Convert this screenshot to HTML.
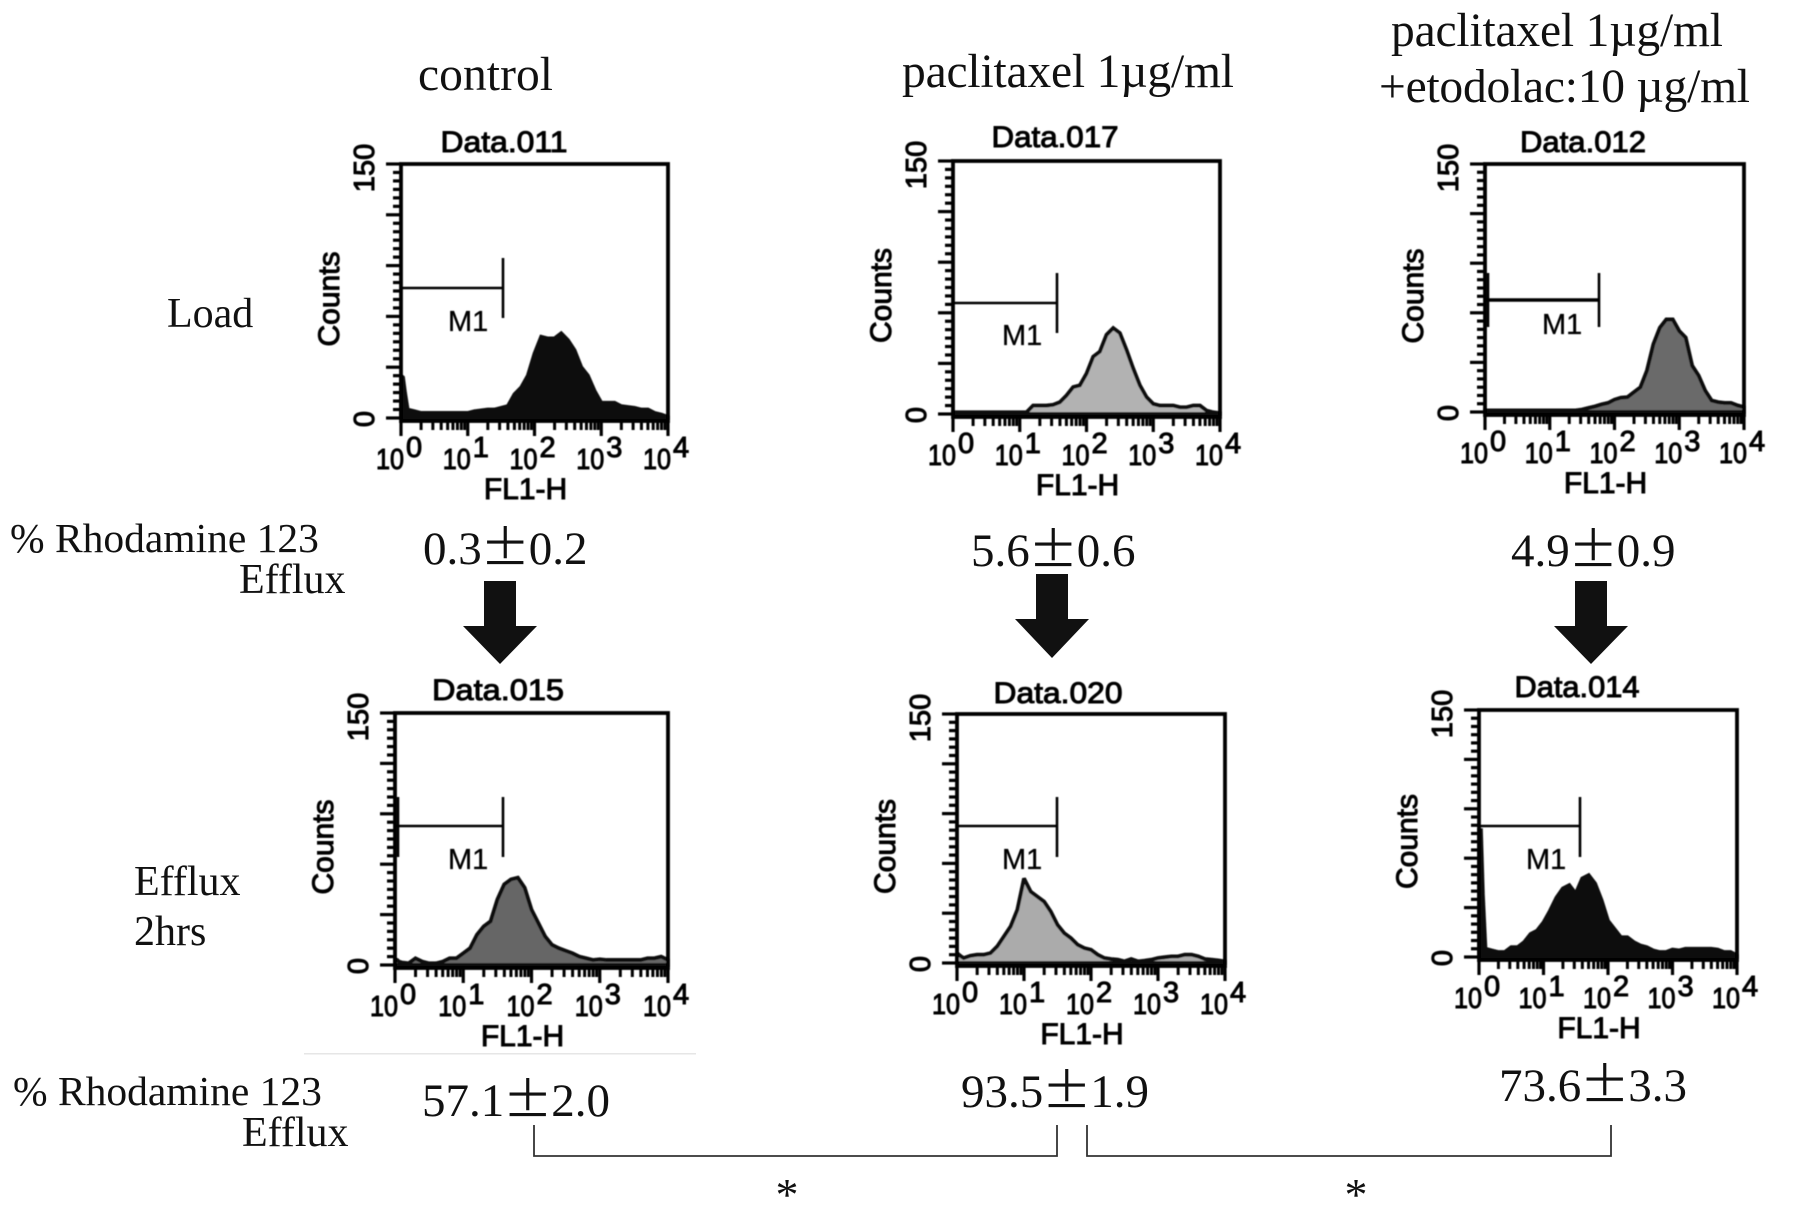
<!DOCTYPE html>
<html lang="en">
<head>
<meta charset="utf-8">
<title>Rhodamine 123 efflux flow cytometry histograms</title>
<style>
html,body{margin:0;padding:0;background:#fff;}
svg{display:block;}
.serif{font-family:"Liberation Serif",serif;fill:#111;}
.wide{font-family:"Noto Serif CJK SC","Liberation Serif",serif;stroke:#111;stroke-width:1.1;}
</style>
</head>
<body>
<svg id="figure" xmlns="http://www.w3.org/2000/svg" width="1795" height="1211" viewBox="0 0 1795 1211">
<defs><filter id="soft" x="-5%" y="-5%" width="110%" height="110%"><feGaussianBlur stdDeviation="0.55"/></filter></defs>
<rect width="1795" height="1211" fill="#fff"/>

<text class="serif" x="418" y="90" font-size="47.5" textLength="135">control</text>
<text class="serif" x="902" y="87" font-size="47.5" textLength="332">paclitaxel 1µg/ml</text>
<text class="serif" x="1391" y="46" font-size="47.5" textLength="332">paclitaxel 1µg/ml</text>
<text class="serif" x="1379" y="102" font-size="47.5" textLength="371">+etodolac:10 µg/ml</text>

<text class="serif" x="167" y="327" font-size="42">Load</text>
<text class="serif" x="134" y="895" font-size="42">Efflux</text>
<text class="serif" x="134" y="945" font-size="42">2hrs</text>

<text class="serif" x="10" y="552" font-size="41.5">% Rhodamine 123</text>
<text class="serif" x="239" y="593" font-size="42">Efflux</text>
<text class="serif" x="13" y="1105" font-size="41.5">% Rhodamine 123</text>
<text class="serif" x="242" y="1146" font-size="42">Efflux</text>

<text class="serif" x="423" y="564" font-size="47">0.3<tspan class="wide">±</tspan>0.2</text>
<text class="serif" x="971" y="566" font-size="47">5.6<tspan class="wide">±</tspan>0.6</text>
<text class="serif" x="1511" y="566" font-size="47">4.9<tspan class="wide">±</tspan>0.9</text>
<text class="serif" x="422" y="1116" font-size="47">57.1<tspan class="wide">±</tspan>2.0</text>
<text class="serif" x="961" y="1107" font-size="47">93.5<tspan class="wide">±</tspan>1.9</text>
<text class="serif" x="1499" y="1101" font-size="47">73.6<tspan class="wide">±</tspan>3.3</text>

<polygon fill="#111" points="484,581 516,581 516,626 537,626 500,664 463,626 484,626"/>
<polygon fill="#111" points="1036,574 1068,574 1068,619 1089,619 1052,658 1015,619 1036,619"/>
<polygon fill="#111" points="1575,581 1607,581 1607,626 1628,626 1591,664 1554,626 1575,626"/>

<rect x="304" y="1053" width="392" height="1.5" fill="#e6e6e6"/>

<path d="M534 1125V1156H1057V1125" fill="none" stroke="#333" stroke-width="1.8"/>
<path d="M1087 1125V1156H1611V1125" fill="none" stroke="#333" stroke-width="1.8"/>
<text class="serif" x="787" y="1210" font-size="46" text-anchor="middle">*</text>
<text class="serif" x="1356" y="1210" font-size="46" text-anchor="middle">*</text>

<g id="panels"></g>
</svg>

<script>
// Shared channel bins (log10 of FL1-H)
const logBins = [0,0.03,0.06,0.1,0.2,0.3,0.4,0.5,0.6,0.7,0.8,0.9,1.0,1.1,1.2,1.3,1.4,1.5,1.6,1.7,1.8,1.9,2.0,2.1,2.2,2.3,2.4,2.5,2.6,2.7,2.8,2.9,3.0,3.1,3.2,3.3,3.4,3.5,3.6,3.7,3.8,3.9,4.0];

// Counts per histogram, one value per bin
const countsData011 = [25,24,15,5,4,3,3,3,3,3,3,3,3,4,4.5,5,5,6,7,14,18,25,38,48,47,47,50,46,40,30,25,16,9,9,9,7,6.5,6,5,5,3,2,0.6];
const countsData017 = [1,1,1,1,1,1,1,1,1,1,1,1,1,1,5,5,5,5.5,7,11,16,17,24,34,37,47,51,48,38,27,17,10,6,5,5,5,4,4,5,5,2,1,0.5];
const countsData012 = [1,1,1,1,1,1,1,1,1,1,1,1,1,1,1,1,1,1.5,2.5,3.4,4.6,5.5,7.5,8.7,9,12,15,25,41,51,56,56,49,45,28,22,13,7,6,5.5,5.5,4,3];
const countsData015 = [3,3,2,1.5,1,4,2,1,1,2,4,4,7,10,18,23,26,39,48,51,52,46,33,25,17,12,10,8.5,7,5,4,3,3.4,3,3,3,3,3,3,4,4,5,3];
const countsData020 = [6,5,4,3,4.4,5,5,6,10,16,22,32,51,43,40,37,31,23,18,15,11,9,8,5,3,2.4,2,1,2.4,1,1.4,2,3,3.5,4,4,5,5,4,2.4,2,1.6,1];
const countsData014 = [77,77,38,5,4,3,3,6,6,9,14,16,21,28,36,41.6,43.6,38.5,47.7,49.7,44.6,34.5,22,17,12,12,9,7,6,4,3,3,4.5,4,5,5,5,5,5,4.5,3,3,1];

// Axis tick values and labels
const yTickCounts = [0,5,10,15,20,25,30,35,40,45,50,55,60,65,70,75,80,85,90,95,100,105,110,115,120,125,130,135,140,145,150];
const yLabelValues = [0,150];
const xDecades = [0,1,2,3,4];
const xMinorMultipliers = [2,3,4,5,6,7,8,9];
const xTickExponents = ['0','1','2','3','4'];
const panelTitles = ['Data.011','Data.017','Data.012','Data.015','Data.020','Data.014'];
const markerLabel = 'M1';
const yAxisTitle = 'Counts';
const xAxisTitle = 'FL1-H';
const panelCounts = [countsData011,countsData017,countsData012,countsData015,countsData020,countsData014];

// Layout of each panel (not data)
const frames = [
 {l:401,r:668,t:164,b:418,fill:'#101010',line:'#101010',tx:504,ty:152,tw:127,mx:503,my:288,mt:258,mb:318,ml:448,mly:331,lb:false,w:2},
 {l:953,r:1220,t:161,b:414,fill:'#b2b2b2',line:'#111',tx:1055,ty:147,tw:127,mx:1057,my:303,mt:273,mb:333,ml:1002,mly:345,lb:false,w:2},
 {l:1485,r:1744,t:164,b:412,fill:'#6b6b6b',line:'#111',tx:1583,ty:152,tw:126,mx:1599,my:300,mt:273,mb:327,ml:1542,mly:334,lb:true,w:3.2},
 {l:395,r:668,t:713,b:965,fill:'#666',line:'#111',tx:498,ty:700,tw:132,mx:503,my:826,mt:797,mb:857,ml:448,mly:869,lb:true,w:2},
 {l:957,r:1225,t:714,b:963,fill:'#ababab',line:'#111',tx:1058,ty:703,tw:129,mx:1057,my:826,mt:797,mb:857,ml:1002,mly:869,lb:false,w:2},
 {l:1479,r:1737,t:710,b:957,fill:'#101010',line:'#101010',tx:1577,ty:697,tw:125,mx:1580,my:826,mt:797,mb:857,ml:1526,mly:869,lb:false,w:2}
];

const NS = 'http://www.w3.org/2000/svg';
const root = document.getElementById('panels');
function mk(tag, attrs, parent, txt){
  const el = document.createElementNS(NS, tag);
  for (const k in attrs) el.setAttribute(k, attrs[k]);
  if (txt !== undefined) el.textContent = txt;
  parent.appendChild(el);
  return el;
}
function boldText(attrs, parent, txt){
  const a = Object.assign({'font-family':'"Liberation Sans",sans-serif',fill:'#000',stroke:'#000','stroke-width':1}, attrs);
  return mk('text', a, parent, txt);
}

frames.forEach(function(f, p){
  const xScale = function(v){ return f.l + v / 4 * (f.r - f.l); };
  const yScale = function(c){ return f.b - c / 150 * (f.b - f.t); };
  const counts = panelCounts[p];

  const g = mk('g', {filter:'url(#soft)'}, root);
  
  

  // histogram
  let pts = xScale(logBins[0]) + ',' + f.b;
  logBins.forEach(function(v, i){ pts += ' ' + xScale(v) + ',' + yScale(counts[i]); });
  pts += ' ' + xScale(logBins[logBins.length - 1]) + ',' + f.b;
  const hist = mk('polygon', {points:pts, fill:f.fill, stroke:f.line, 'stroke-width':3.8, 'stroke-linejoin':'miter', 'stroke-miterlimit':2}, g);
  
  

  // frame
  const box = mk('rect', {x:f.l, y:f.t, width:f.r - f.l, height:f.b + 3 - f.t, fill:'none', stroke:'#000', 'stroke-width':3.8}, g);
  
  

  // y ticks
  yTickCounts.forEach(function(c){
    const major = c % 30 === 0;
    const t = mk('line', {x1:f.l - (major ? 15 : 8), x2:f.l, y1:yScale(c), y2:yScale(c), stroke:'#000', 'stroke-width':3.2}, g);
    
    
  });

  // x ticks
  xDecades.forEach(function(d, i){
    const t = mk('line', {x1:xScale(d), x2:xScale(d), y1:f.b + 3, y2:f.b + 18, stroke:'#000', 'stroke-width':3.2}, g);
    
    
    if (d < 4) xMinorMultipliers.forEach(function(m){
      const v = d + Math.log10(m);
      const mt = mk('line', {x1:xScale(v), x2:xScale(v), y1:f.b + 3, y2:f.b + 12, stroke:'#000', 'stroke-width':3}, g);
      
      
    });
    const base = boldText({x:xScale(d) - 25, y:f.b + 51, 'font-size':29, textLength:28, lengthAdjust:'spacingAndGlyphs'}, g, '10');
    
    
    const sup = boldText({x:xScale(d) + 5, y:f.b + 39, 'font-size':29}, g, xTickExponents[i]);
    
    
  });

  // y labels
  yLabelValues.forEach(function(c){
    const cy = yScale(c) + (c === 0 ? 1 : 4);
    const l = boldText({x:0, y:0, 'font-size':29, 'text-anchor':'middle', transform:'translate(' + (f.l - 27) + ' ' + cy + ') rotate(-90)'}, g, String(c));
    
    
  });

  const yt = boldText({x:0, y:0, 'font-size':30, 'text-anchor':'middle', transform:'translate(' + (f.l - 62) + ' ' + ((f.t + f.b) / 2 + 8) + ') rotate(-90)'}, g, yAxisTitle);
  
  

  const xt = boldText({x:(f.l + f.r) / 2 - 9, y:f.b + 81, 'font-size':30, 'text-anchor':'middle'}, g, xAxisTitle);
  
  

  const title = boldText({x:f.tx, y:f.ty, 'font-size':30, 'text-anchor':'middle', textLength:f.tw, lengthAdjust:'spacingAndGlyphs'}, g, panelTitles[p]);
  
  

  // M1 marker
  const mh = mk('line', {x1:f.l, x2:f.mx, y1:f.my, y2:f.my, stroke:'#000', 'stroke-width':f.w + 0.4}, g);
  
  
  const mv = mk('line', {x1:f.mx, x2:f.mx, y1:f.mt, y2:f.mb, stroke:'#000', 'stroke-width':2.6}, g);
  
  
  if (f.lb) {
    const ml = mk('line', {x1:f.l + 3, x2:f.l + 3, y1:f.mt, y2:f.mb, stroke:'#000', 'stroke-width':2.6}, g);
    
    
  }
  const mt = mk('text', {x:f.ml, y:f.mly, 'font-size':29, 'font-family':'"Liberation Sans",sans-serif', fill:'#000', stroke:'#000', 'stroke-width':0.3}, g, markerLabel);
  
  
});
</script>
</body>
</html>
